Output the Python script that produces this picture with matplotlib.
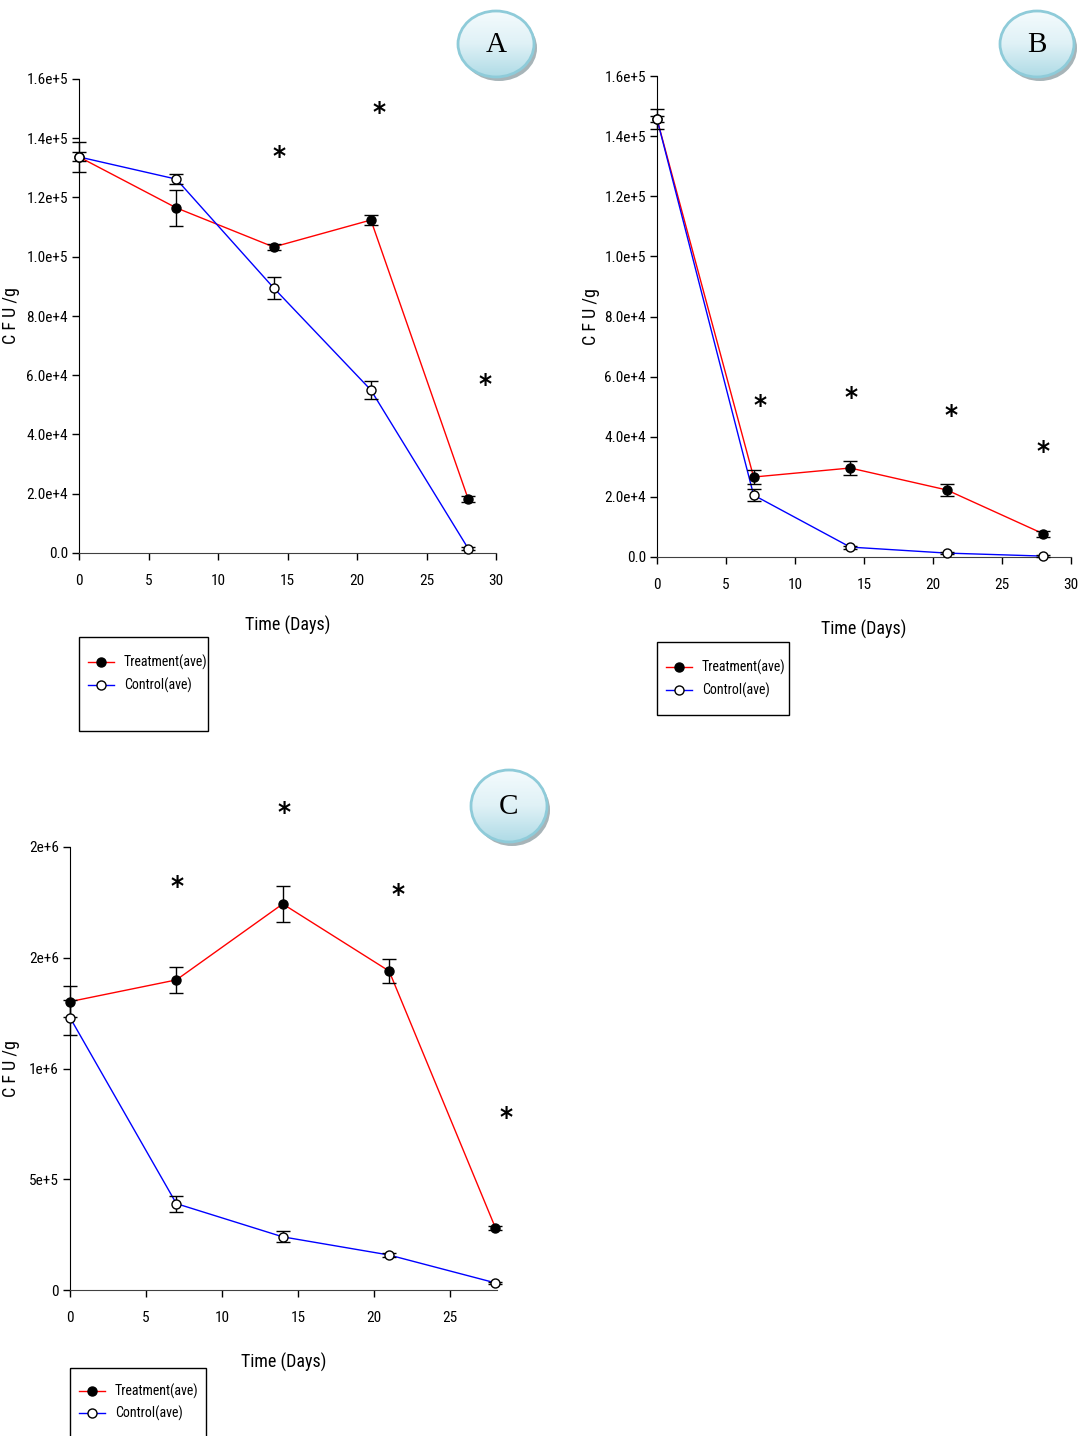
import matplotlib
matplotlib.use('Agg')
import matplotlib.pyplot as plt
import matplotlib.transforms as mtransforms
from matplotlib.patches import Ellipse, Rectangle
import numpy as np

plt.rcParams['font.family'] = ['Liberation Sans Narrow', 'Roboto Condensed', 'DejaVu Sans']
plt.rcParams['font.stretch'] = 'condensed'

# ---- data ----
days = [0, 7, 14, 21, 28]

# panel A
a_treat = [1.337e5, 1.165e5, 1.033e5, 1.124e5, 1.82e4]
a_treat_err = [5.0e3, 6.0e3, 1.0e3, 1.7e3, 1.0e3]
a_ctrl = [1.337e5, 1.262e5, 8.95e4, 5.5e4, 1.5e3]
a_ctrl_err = [1.5e3, 1.7e3, 3.7e3, 2.9e3, 5e2]
a_star_x = [14.4, 21.6, 29.2]
a_star_y = [1.354e5, 1.502e5, 5.84e4]

# panel B
b_treat = [1.457e5, 2.66e4, 2.96e4, 2.23e4, 7.7e3]
b_treat_err = [3.3e3, 2.3e3, 2.3e3, 2.0e3, 1.0e3]
b_ctrl = [1.457e5, 2.06e4, 3.3e3, 1.3e3, 3e2]
b_ctrl_err = [1.0e3, 2.0e3, 5e2, 3e2, 2e2]
b_star_x = [7.45, 14.05, 21.3, 27.95]
b_star_y = [5.19e4, 5.46e4, 4.86e4, 3.66e4]

# panel C
c_treat = [1.302e6, 1.40e6, 1.743e6, 1.44e6, 2.8e5]
c_treat_err = [7.0e4, 6.0e4, 8.0e4, 5.6e4, 1.0e4]
c_ctrl = [1.23e6, 3.9e5, 2.4e5, 1.58e5, 3.2e4]
c_ctrl_err = [7.7e4, 3.6e4, 2.5e4, 8e3, 5e3]
c_star_x = [7.05, 14.08, 21.6, 28.7]
c_star_y = [1.842e6, 2.176e6, 1.806e6, 8.0e5]

ab_yticks = [0, 2e4, 4e4, 6e4, 8e4, 1e5, 1.2e5, 1.4e5, 1.6e5]
ab_ylabels = ['0.0', '2.0e+4', '4.0e+4', '6.0e+4', '8.0e+4', '1.0e+5', '1.2e+5', '1.4e+5', '1.6e+5']
ab_xticks = [0, 5, 10, 15, 20, 25, 30]
c_yticks = [0, 5e5, 1e6, 1.5e6, 2e6]
c_ylabels = ['0', '5e+5', '1e+6', '2e+6', '2e+6']
c_xticks = [0, 5, 10, 15, 20, 25]

W, H = 1087, 1436
fig = plt.figure(figsize=(W / 100, H / 100), dpi=100)


def px_axes(left, right, top, bottom):
    return fig.add_axes([left / W, 1 - bottom / H, (right - left) / W, (bottom - top) / H])


def draw_panel(ax, left_px, treat, treat_err, ctrl, ctrl_err, sx, sy, xlim, ylim, xticks, yticks, ylabels):
    ax.plot(days, treat, color='#ff0000', lw=1, zorder=2, clip_on=False)
    ax.plot(days, ctrl, color='#0000ff', lw=1, zorder=2, clip_on=False)
    eb1 = ax.errorbar(days, treat, yerr=treat_err, fmt='o', color='black', ms=6.5,
                      ecolor='black', elinewidth=1, capsize=5, capthick=1, zorder=3)
    eb2 = ax.errorbar(days, ctrl, yerr=ctrl_err, fmt='o', mfc='white', mec='black', ms=6.5,
                      ecolor='black', elinewidth=1, capsize=5, capthick=1, zorder=4)
    for eb in (eb1, eb2):
        for art in eb.get_children():
            art.set_clip_on(False)
    # '*' glyph sits high in its box, nudge it down a little
    star_tr = mtransforms.offset_copy(ax.transData, fig=fig, x=0, y=-6, units='dots')
    for x, y in zip(sx, sy):
        ax.text(x, y, '*', fontsize=20, family='DejaVu Sans', weight='bold',
                ha='center', va='center', transform=star_tr)
    ax.set_xlim(*xlim)
    ax.set_ylim(*ylim)
    ax.set_xticks(xticks)
    ax.set_yticks(yticks)
    ax.set_yticklabels(ylabels)
    ax.tick_params(axis='y', direction='out', length=5, width=1, labelsize=11, pad=3)
    ax.tick_params(axis='x', direction='out', length=5, width=1, labelsize=11, pad=10)
    for s in ['top', 'right']:
        ax.spines[s].set_visible(False)
    ax.spines['left'].set_bounds(ylim[0], yticks[-1])
    ax.spines['bottom'].set_color('#404040')
    ax.patch.set_visible(False)
    ax.set_ylabel('C F U /g', fontsize=13)
    w_px = ax.get_position().width * W
    ax.yaxis.set_label_coords((20 - left_px) / w_px, 0.5)
    ax.set_xlabel('Time (Days)', fontsize=13, labelpad=20)


axA = px_axes(79, 496, 79, 553)
draw_panel(axA, 79, a_treat, a_treat_err, a_ctrl, a_ctrl_err, a_star_x, a_star_y,
           (0, 30), (0, 1.6e5), ab_xticks, ab_yticks, ab_ylabels)

axB = px_axes(657, 1071, 76, 557)
draw_panel(axB, 657, b_treat, b_treat_err, b_ctrl, b_ctrl_err, b_star_x, b_star_y,
           (0, 30), (0, 1.6e5), ab_xticks, ab_yticks, ab_ylabels)
axB.yaxis.set_label_coords((600 - 657) / 414, 0.5)

axC = px_axes(70, 497, 847, 1290)
draw_panel(axC, 70, c_treat, c_treat_err, c_ctrl, c_ctrl_err, c_star_x, c_star_y,
           (0, 28.1), (0, 2e6), c_xticks, c_yticks, c_ylabels)

# overlay in pixel coordinates for badges and legend boxes
ov = fig.add_axes([0, 0, 1, 1], zorder=10)
ov.patch.set_visible(False)


def badge(cx, cy, w, h, letter):
    ov.add_patch(Ellipse((cx + 3, cy + 4), w, h, color='#a7b4b8', lw=0))
    grad = np.linspace(0, 1, 64).reshape(-1, 1)
    im = ov.imshow(grad, cmap=matplotlib.colors.LinearSegmentedColormap.from_list(
        'b', ['#f4fbfd', '#dff1f6', '#afdbe6']), extent=[cx - w / 2, cx + w / 2, cy + h / 2, cy - h / 2],
        aspect='auto', zorder=2)
    clip = Ellipse((cx, cy), w, h, transform=ov.transData, fc='none', lw=0)
    ov.add_patch(clip)
    im.set_clip_path(clip)
    ov.add_patch(Ellipse((cx, cy), w, h, fc='none', ec='#8ecbd9', lw=2, zorder=3))
    ov.text(cx, cy + 1, letter, fontsize=21, family='Liberation Serif', stretch='normal',
            ha='center', va='center', zorder=4)


def legend_box(x0, y0, x1, y1, row1, row2):
    ov.add_patch(Rectangle((x0, y0), x1 - x0, y1 - y0, fc='none', ec='black', lw=1))
    for yy, col, fc, lab in [(row1, '#ff0000', 'black', 'Treatment(ave)'),
                             (row2, '#0000ff', 'white', 'Control(ave)')]:
        ov.plot([x0 + 9, x0 + 35], [yy, yy], color=col, lw=1)
        ov.plot([x0 + 22], [yy], 'o', ms=6.5, mfc=fc, mec='black')
        ov.text(x0 + 45, yy, lab, fontsize=10, va='center', ha='left')


badge(496, 44, 76, 66, 'A')
badge(1037, 44, 74, 66, 'B')
badge(509, 806, 76, 72, 'C')

legend_box(79, 637, 208, 731, 662, 685)
legend_box(657, 642, 789, 715, 667, 690)
legend_box(70, 1368, 206, 1440, 1391, 1413)

ov.set_xlim(0, W)
ov.set_ylim(H, 0)
ov.axis('off')

fig.savefig('out.png', dpi=100)
